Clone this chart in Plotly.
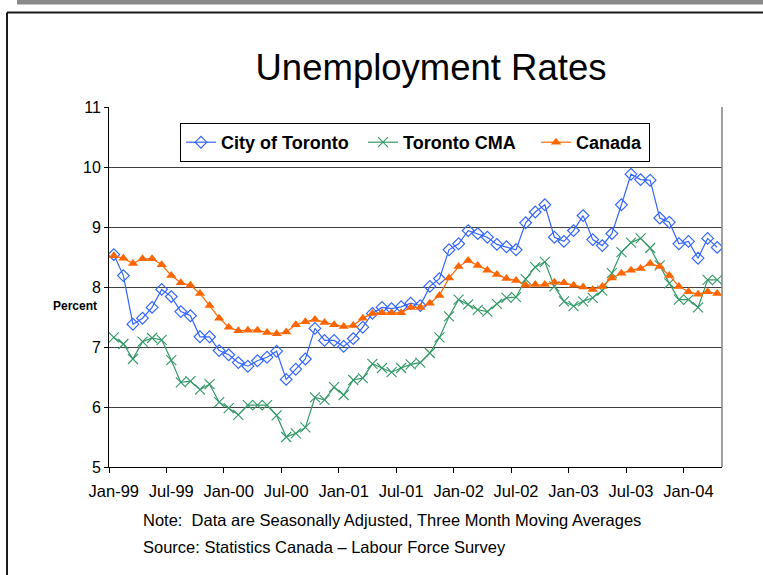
import plotly.graph_objects as go

months = ["Jan-99","Feb-99","Mar-99","Apr-99","May-99","Jun-99","Jul-99","Aug-99","Sep-99","Oct-99","Nov-99","Dec-99",
          "Jan-00","Feb-00","Mar-00","Apr-00","May-00","Jun-00","Jul-00","Aug-00","Sep-00","Oct-00","Nov-00","Dec-00",
          "Jan-01","Feb-01","Mar-01","Apr-01","May-01","Jun-01","Jul-01","Aug-01","Sep-01","Oct-01","Nov-01","Dec-01",
          "Jan-02","Feb-02","Mar-02","Apr-02","May-02","Jun-02","Jul-02","Aug-02","Sep-02","Oct-02","Nov-02","Dec-02",
          "Jan-03","Feb-03","Mar-03","Apr-03","May-03","Jun-03","Jul-03","Aug-03","Sep-03","Oct-03","Nov-03","Dec-03",
          "Jan-04","Feb-04","Mar-04","Apr-04"]

city_of_toronto = [8.54, 8.19, 7.38, 7.48, 7.66, 7.96, 7.84, 7.59, 7.52, 7.17, 7.17, 6.94,
                   6.87, 6.74, 6.68, 6.77, 6.83, 6.93, 6.46, 6.63, 6.80, 7.31, 7.11, 7.11,
                   7.01, 7.14, 7.33, 7.56, 7.66, 7.64, 7.67, 7.73, 7.69, 8.01, 8.14, 8.62,
                   8.72, 8.94, 8.89, 8.83, 8.71, 8.67, 8.62, 9.07, 9.25, 9.37, 8.83, 8.76,
                   8.94, 9.19, 8.79, 8.69, 8.89, 9.37, 9.88, 9.79, 9.78, 9.15, 9.08, 8.72,
                   8.76, 8.48, 8.81, 8.66]

toronto_cma = [7.16, 7.05, 6.80, 7.09, 7.15, 7.12, 6.78, 6.41, 6.43, 6.29, 6.38, 6.08,
               5.98, 5.87, 6.03, 6.03, 6.03, 5.86, 5.50, 5.56, 5.66, 6.16, 6.12, 6.33,
               6.20, 6.45, 6.48, 6.72, 6.65, 6.58, 6.65, 6.71, 6.74, 6.90, 7.16, 7.51,
               7.79, 7.71, 7.62, 7.59, 7.72, 7.82, 7.83, 8.13, 8.33, 8.42, 8.01, 7.76,
               7.68, 7.76, 7.82, 7.94, 8.23, 8.58, 8.74, 8.81, 8.65, 8.36, 8.06, 7.79,
               7.79, 7.66, 8.12, 8.12]

canada = [8.52, 8.48, 8.39, 8.47, 8.47, 8.37, 8.19, 8.07, 8.03, 7.89, 7.69, 7.48,
          7.33, 7.27, 7.28, 7.28, 7.24, 7.22, 7.25, 7.37, 7.42, 7.46, 7.41, 7.37,
          7.34, 7.36, 7.48, 7.56, 7.57, 7.57, 7.57, 7.66, 7.66, 7.73, 7.86, 8.15,
          8.34, 8.44, 8.36, 8.28, 8.21, 8.14, 8.11, 8.03, 8.04, 8.04, 8.08, 8.07,
          8.03, 8.00, 7.96, 8.01, 8.15, 8.23, 8.28, 8.31, 8.39, 8.34, 8.19, 8.01,
          7.92, 7.88, 7.92, 7.89]

tick_labels = ["Jan-99","Jul-99","Jan-00","Jul-00","Jan-01","Jul-01","Jan-02","Jul-02","Jan-03","Jul-03","Jan-04"]

FONT = "Liberation Sans, Arial, sans-serif"
x = list(range(len(months)))
tickvals = [months.index(t) for t in tick_labels]

fig = go.Figure()
fig.add_trace(go.Scatter(x=x, y=city_of_toronto, name="City of Toronto", mode="lines+markers",
                         legendwidth=137,
                         line=dict(color="#3366FF", width=1.2),
                         marker=dict(symbol="diamond-open", size=9, color="#3366FF", line=dict(width=1.2))))
fig.add_trace(go.Scatter(x=x, y=toronto_cma, name="Toronto CMA", mode="lines+markers",
                         legendwidth=128,
                         line=dict(color="#339966", width=1.2),
                         marker=dict(symbol="x-thin", size=10, color="#339966", line=dict(width=1.1, color="#339966"))))
fig.add_trace(go.Scatter(x=x, y=canada, name="Canada", mode="lines+markers",
                         legendwidth=68,
                         line=dict(color="#FF6600", width=1.2),
                         marker=dict(symbol="triangle-up", size=9, color="#FF6600")))

W, H = 763, 575
L, R, T, B = 109, 722, 107, 467
def px2x(p): return (p - L) / (R - L)
def py2y(p): return (B - p) / (B - T)

shapes = [
    # plot area right border
    dict(type="line", xref="paper", yref="paper", x0=1, x1=1, y0=0, y1=1, line=dict(color="#808080", width=1.5)),
    # slide frame
    dict(type="rect", xref="paper", yref="paper", x0=px2x(17), x1=px2x(770), y0=py2y(4.5), y1=py2y(-2),
         fillcolor="#8a8a8a", line=dict(width=0), layer="below"),
    dict(type="line", xref="paper", yref="paper", x0=px2x(7), x1=px2x(770), y0=py2y(12.5), y1=py2y(12.5),
         line=dict(color="#1a1a1a", width=2)),
    dict(type="line", xref="paper", yref="paper", x0=px2x(7), x1=px2x(7), y0=py2y(12.5), y1=py2y(580),
         line=dict(color="#1a1a1a", width=2)),
]

annotations = [
    dict(text="<b>Percent</b>", xref="paper", yref="paper", x=px2x(75), y=py2y(306), showarrow=False,
         xanchor="center", yanchor="middle", font=dict(size=12, color="black", family=FONT)),
    dict(text="Note:\u00a0 Data are Seasonally Adjusted, Three Month Moving Averages", xref="paper", yref="paper",
         x=px2x(141), y=py2y(520), showarrow=False, xanchor="left", yanchor="middle",
         font=dict(size=16.5, color="black", family=FONT)),
    dict(text="Source: Statistics Canada \u2013 Labour Force Survey", xref="paper", yref="paper",
         x=px2x(141), y=py2y(547), showarrow=False, xanchor="left", yanchor="middle",
         font=dict(size=16.5, color="black", family=FONT)),
]

fig.update_layout(
    width=W, height=H,
    margin=dict(l=L, r=W - R, t=T, b=H - B, pad=0),
    paper_bgcolor="white", plot_bgcolor="white",
    font=dict(family=FONT, color="black"),
    title=dict(text="Unemployment Rates", x=431 / W, xanchor="center", y=1 - 67 / H, yanchor="middle",
               xref="container", yref="container", font=dict(size=36.5, color="black", family=FONT)),
    showlegend=True,
    legend=dict(orientation="h", x=px2x(415), y=py2y(142.5), xanchor="center", yanchor="middle",
                bordercolor="black", borderwidth=1, bgcolor="white",
                font=dict(size=18, color="black", family=FONT, weight="bold")),
    shapes=shapes, annotations=annotations,
)
fig.update_xaxes(range=[-0.5, len(months) - 0.5], tickmode="array", tickvals=tickvals, ticktext=tick_labels,
                 ticks="", showgrid=False, zeroline=False, showline=True, linecolor="black", linewidth=1,
                 ticklabelstandoff=9,
                 tickfont=dict(size=16.5, family=FONT, color="black"),
                 minor=dict(tick0=-0.5, dtick=6, ticks="outside", ticklen=5, tickcolor="black", showgrid=False))
fig.update_yaxes(range=[5, 11], dtick=1, tick0=5, ticks="outside", ticklen=4, tickcolor="black",
                 showgrid=True, gridcolor="#404040", gridwidth=1, zeroline=False,
                 showline=True, linecolor="black", linewidth=1,
                 tickfont=dict(size=16, family=FONT, color="black"))

fig.write_html("out.html", config={"displayModeBar": False},
               post_script="document.body.style.margin='0';")
